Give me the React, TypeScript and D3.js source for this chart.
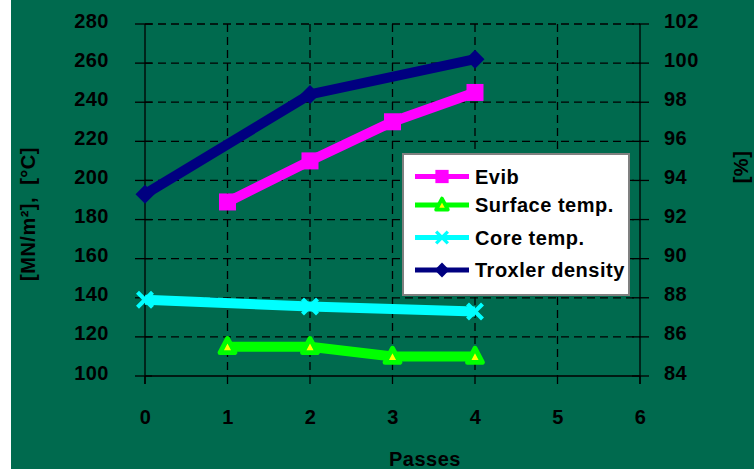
import { useEffect, useRef } from 'react';
import * as d3 from 'd3';

// values
const evibPasses = [1, 2, 3, 4];
const evib = [189, 210, 230, 245];
const surfacePasses = [1, 2, 3, 4];
const surfaceTemp = [115, 115, 110, 110];
const corePasses = [0, 2, 4];
const coreTemp = [139, 135.5, 133];
const troxlerPasses = [0, 2, 4];
const troxlerDensity = [93.3, 98.4, 100.2];

const xTicks = [0, 1, 2, 3, 4, 5, 6];
const leftTicks = [100, 120, 140, 160, 180, 200, 220, 240, 260, 280];
const rightTicks = [84, 86, 88, 90, 92, 94, 96, 98, 100, 102];

const App = () => {
  const svgRef = useRef<SVGSVGElement>(null);

  useEffect(() => {
    const width = 754;
    const height = 469;
    const font = "'Liberation Sans', Arial, sans-serif";

    const svg = d3.select(svgRef.current);
    svg.selectAll('*').remove();
    svg.attr('width', width).attr('height', height);

    svg.append('rect').attr('width', width).attr('height', height).attr('fill', '#ffffff');
    svg.append('rect').attr('x', 11).attr('width', width - 11).attr('height', height).attr('fill', '#006a4e');

    const x = d3.scaleLinear().domain([0, 6]).range([145, 640]);
    const yL = d3.scaleLinear().domain([100, 280]).range([376, 24]);
    const yR = d3.scaleLinear().domain([84, 102]).range([376, 24]);

    const txt = (sel: any) =>
      sel
        .attr('font-family', font)
        .attr('font-weight', 'bold')
        .attr('font-size', 20)
        .attr('letter-spacing', 0.5)
        .attr('fill', '#000');

    // grid
    const grid = svg.append('g').attr('stroke', '#000').attr('stroke-width', 1.3).attr('stroke-dasharray', '8,5');
    grid
      .selectAll('line.h')
      .data(leftTicks.slice(1))
      .join('line')
      .attr('x1', x(0))
      .attr('x2', x(6))
      .attr('y1', (d) => yL(d))
      .attr('y2', (d) => yL(d));
    grid
      .selectAll('line.v')
      .data(xTicks.slice(1, 6))
      .join('line')
      .attr('x1', (d) => x(d))
      .attr('x2', (d) => x(d))
      .attr('y1', yL(280))
      .attr('y2', yL(100));

    // axes
    const ax = svg.append('g').attr('stroke', '#000').attr('stroke-width', 1.3);
    ax.append('line').attr('x1', x(0)).attr('x2', x(6)).attr('y1', yL(100)).attr('y2', yL(100));
    ax.append('line').attr('x1', x(0)).attr('x2', x(0)).attr('y1', yL(280)).attr('y2', yL(100) + 8);
    ax.append('line').attr('x1', x(6)).attr('x2', x(6)).attr('y1', yR(102)).attr('y2', yR(84) + 8);
    ax.selectAll('line.xt')
      .data(xTicks)
      .join('line')
      .attr('x1', (d) => x(d))
      .attr('x2', (d) => x(d))
      .attr('y1', yL(100))
      .attr('y2', yL(100) + 8);
    ax.selectAll('line.lt')
      .data(leftTicks)
      .join('line')
      .attr('x1', x(0) - 10)
      .attr('x2', x(0) + 7)
      .attr('y1', (d) => yL(d))
      .attr('y2', (d) => yL(d));
    ax.selectAll('line.rt')
      .data(rightTicks)
      .join('line')
      .attr('x1', x(6) - 8)
      .attr('x2', x(6) + 9)
      .attr('y1', (d) => yR(d))
      .attr('y2', (d) => yR(d));

    // tick labels
    svg.append('g').selectAll('text')
      .data(leftTicks)
      .join('text')
      .call(txt)
      .attr('text-anchor', 'end')
      .attr('x', 109)
      .attr('y', (d) => yL(d) + 3.5)
      .text((d) => d);
    svg.append('g').selectAll('text')
      .data(rightTicks)
      .join('text')
      .call(txt)
      .attr('x', 664)
      .attr('y', (d) => yR(d) + 3.5)
      .text((d) => d);
    svg.append('g').selectAll('text')
      .data(xTicks)
      .join('text')
      .call(txt)
      .attr('text-anchor', 'middle')
      .attr('x', (d) => x(d) + 0.6)
      .attr('y', 424)
      .text((d) => d);

    // axis titles
    svg.append('text').call(txt).attr('text-anchor', 'middle').attr('x', 425).attr('y', 466).text('Passes');
    svg.append('text')
      .call(txt)
      .attr('text-anchor', 'middle')
      .attr('transform', 'translate(35,214) rotate(-90)')
      .attr('xml:space', 'preserve')
      .text('[MN/m²],  [°C]');
    svg.append('text')
      .call(txt)
      .attr('text-anchor', 'middle')
      .attr('transform', 'translate(748,167) rotate(-90)')
      .text('[%]');

    // markers
    const square = (g: any, s: number) =>
      g.append('rect').attr('x', -s / 2).attr('y', -s / 2).attr('width', s).attr('height', s).attr('fill', '#ff00ff');
    const triangle = (g: any, s: number) =>
      g.append('path')
        .attr('d', `M0,${-s * 0.55}L${s * 0.5},${s * 0.4}L${-s * 0.5},${s * 0.4}Z`)
        .attr('fill', '#ffff00')
        .attr('stroke', '#00ff00')
        .attr('stroke-width', s * 0.32)
        .attr('stroke-linejoin', 'round');
    const cross = (g: any, s: number) =>
      g.append('path')
        .attr('d', `M${-s / 2},${-s / 2}L${s / 2},${s / 2}M${s / 2},${-s / 2}L${-s / 2},${s / 2}`)
        .attr('stroke', '#00ffff')
        .attr('stroke-width', s * 0.28);
    const diamond = (g: any, s: number) =>
      g.append('path').attr('d', `M0,${-s / 2}L${s / 2},0L0,${s / 2}L${-s / 2},0Z`).attr('fill', '#000080');

    const series = [
      { name: 'Evib', xs: evibPasses, ys: evib, y: yL, color: '#ff00ff', marker: square, ms: 17 },
      { name: 'Surface temp.', xs: surfacePasses, ys: surfaceTemp, y: yL, color: '#00ff00', marker: triangle, ms: 15 },
      { name: 'Core temp.', xs: corePasses, ys: coreTemp, y: yL, color: '#00ffff', marker: cross, ms: 15 },
      { name: 'Troxler density', xs: troxlerPasses, ys: troxlerDensity, y: yR, color: '#000080', marker: diamond, ms: 19 },
    ];

    series.forEach((s) => {
      const pts = s.xs.map((p, i) => [x(p), s.y(s.ys[i])] as [number, number]);
      svg.append('path')
        .attr('d', d3.line()(pts))
        .attr('fill', 'none')
        .attr('stroke', s.color)
        .attr('stroke-width', 10)
        .attr('stroke-linejoin', 'round');
      pts.forEach(([px, py]) => {
        const g = svg.append('g').attr('transform', `translate(${px},${py})`);
        s.marker(g, s.ms);
      });
    });

    // legend
    const lg = svg.append('g');
    lg.append('rect')
      .attr('x', 403)
      .attr('y', 154)
      .attr('width', 226)
      .attr('height', 141)
      .attr('fill', '#fff')
      .attr('stroke', '#808080')
      .attr('stroke-width', 2);
    const rowY = [176.5, 205, 237.5, 270];
    series.forEach((s, i) => {
      const yy = rowY[i];
      lg.append('line')
        .attr('x1', 415)
        .attr('x2', 469)
        .attr('y1', yy)
        .attr('y2', yy)
        .attr('stroke', s.color)
        .attr('stroke-width', 5);
      const g = lg.append('g').attr('transform', `translate(442,${yy})`);
      s.marker(g, s.ms * 0.78);
      lg.append('text').call(txt).attr('x', 475).attr('y', yy + 7).text(s.name);
    });
  }, []);

  return <svg ref={svgRef} style={{ position: 'absolute', left: 0, top: 0, display: 'block' }}></svg>;
};

export default App;
